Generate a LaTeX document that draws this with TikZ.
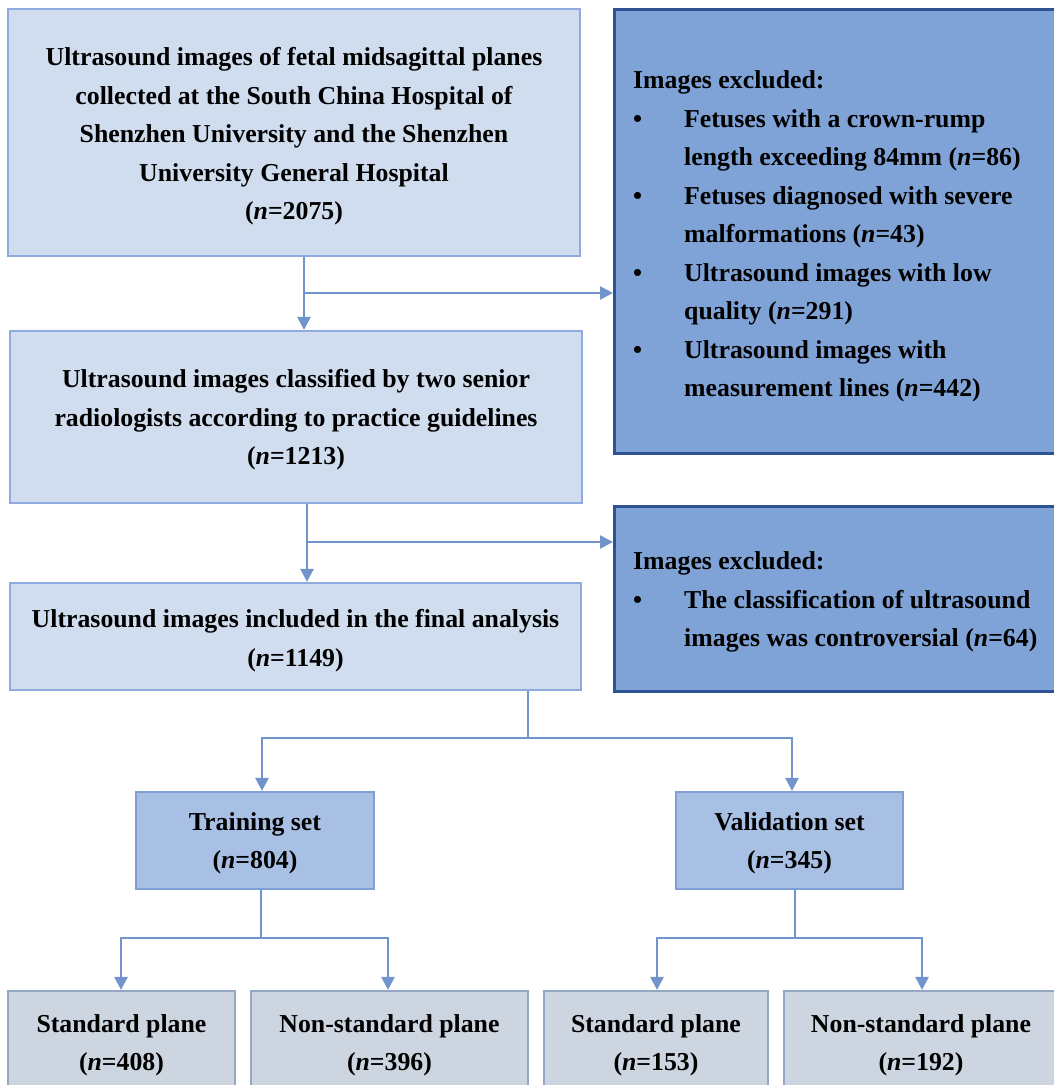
\documentclass[tikz,border=0pt]{standalone}
\usepackage{fontspec}
\setmainfont{Liberation Serif}
\usetikzlibrary{arrows.meta}
\definecolor{lightfill}{HTML}{D0DDEE}
\definecolor{lightline}{HTML}{8FAADC}
\definecolor{exfill}{HTML}{7FA3D6}
\definecolor{exline}{HTML}{2E5395}
\definecolor{setfill}{HTML}{A8C0E4}
\definecolor{setline}{HTML}{7F9FD6}
\definecolor{planefill}{HTML}{CCD5E0}
\definecolor{planeline}{HTML}{94A8C4}
\definecolor{arrowcol}{HTML}{7194CD}
\tikzset{
  base/.style={draw, line width=2.2pt, inner sep=0pt},
  txt/.style={inner sep=0pt, align=center,
    font=\fontsize{25.8}{38.5}\selectfont\bfseries},
  extxt/.style={txt, align=left, anchor=west},
  lightbox/.style={base, fill=lightfill, draw=lightline},
  exbox/.style={base, fill=exfill, draw=exline, line width=2.8pt, anchor=north west},
  setbox/.style={base, fill=setfill, draw=setline},
  planebox/.style={base, fill=planefill, draw=planeline},
  conn/.style={draw=arrowcol, line width=2.6pt},
  arr/.style={conn, -{Triangle[length=13pt,width=13pt]}},
}
\newcommand{\bul}{\makebox[51pt][l]{\textbullet}}
\newcommand{\ind}{\hspace*{51pt}}
\begin{document}
\begin{tikzpicture}[x=1pt,y=-1pt]
\useasboundingbox (0,0) rectangle (1054,1085);
\fill[white] (0,0) rectangle (1054,1085);
\clip (0,0) rectangle (1054,1085);

% main column
\node[lightbox, minimum width=572pt, minimum height=247pt] (b1) at (294,132.5) {};
\node[txt] (b1t) at ([yshift=-4pt]b1.center)
  {Ultrasound images of fetal midsagittal planes\\collected at the South China Hospital of\\Shenzhen University and the Shenzhen\\University General Hospital\\(\textit{n}=2075)};
\node[lightbox, minimum width=572pt, minimum height=172pt] (b2) at (296,417) {};
\node[txt] (b2t) at ([yshift=-3pt]b2.center)
  {Ultrasound images classified by two senior\\radiologists according to practice guidelines\\(\textit{n}=1213)};
\node[lightbox, minimum width=571pt, minimum height=107pt] (b3) at (295.5,636.5) {};
\node[txt] (b3t) at ([yshift=-4pt]b3.center)
  {Ultrasound images included in the final analysis\\(\textit{n}=1149)};

% exclusion boxes
\node[exbox, minimum width=460pt, minimum height=444pt] (ex1) at (613,8) {};
\node[extxt] (ex1t) at ([xshift=20pt,yshift=-5pt]ex1.west)
  {Images excluded:\\
   \bul Fetuses with a crown-rump\\
   \ind length exceeding 84mm (\textit{n}=86)\\
   \bul Fetuses diagnosed with severe\\
   \ind malformations (\textit{n}=43)\\
   \bul Ultrasound images with low\\
   \ind quality (\textit{n}=291)\\
   \bul Ultrasound images with\\
   \ind measurement lines (\textit{n}=442)};
\node[exbox, minimum width=460pt, minimum height=185pt] (ex2) at (613,505) {};
\node[extxt] (ex2t) at ([xshift=20pt,yshift=-3pt]ex2.west)
  {Images excluded:\\
   \bul The classification of ultrasound\\
   \ind images was controversial (\textit{n}=64)};

% sets
\node[setbox, minimum width=238pt, minimum height=97pt] (train) at (255,840.5) {};
\node[txt] (traint) at ([yshift=-3pt]train.center) {Training set\\(\textit{n}=804)};
\node[setbox, minimum width=227pt, minimum height=97pt] (valid) at (789.5,840.5) {};
\node[txt] (validt) at ([yshift=-3pt]valid.center) {Validation set\\(\textit{n}=345)};

% planes
\node[planebox, minimum width=227pt, minimum height=103pt] (pa) at (121.5,1042.5) {};
\node[txt] (pat) at ([yshift=-3pt]pa.center) {Standard plane\\(\textit{n}=408)};
\node[planebox, minimum width=277pt, minimum height=103pt] (pb) at (389.5,1042.5) {};
\node[txt] (pbt) at ([yshift=-3pt]pb.center) {Non-standard plane\\(\textit{n}=396)};
\node[planebox, minimum width=224pt, minimum height=103pt] (pc) at (656,1042.5) {};
\node[txt] (pct) at ([yshift=-3pt]pc.center) {Standard plane\\(\textit{n}=153)};
\node[planebox, minimum width=274pt, minimum height=103pt] (pd) at (921,1042.5) {};
\node[txt] (pdt) at ([yshift=-3pt]pd.center) {Non-standard plane\\(\textit{n}=192)};

% junctions
\coordinate (j1) at (304,293);
\coordinate (j2) at (307,542);
\coordinate (j3) at (528,738);
\coordinate (t1) at (262,738);
\coordinate (t2) at (792,738);
\coordinate (j4) at (261,938);
\coordinate (u1) at (121,938);
\coordinate (u2) at (388,938);
\coordinate (j5) at (795,938);
\coordinate (u3) at (657,938);
\coordinate (u4) at (922,938);

% connectors
\draw[arr] (j1 |- b1.south) -- (j1 |- b2.north);
\draw[arr] (j1) -- (j1 -| ex1.west);
\draw[arr] (j2 |- b2.south) -- (j2 |- b3.north);
\draw[arr] (j2) -- (j2 -| ex2.west);

\draw[conn] (j3 |- b3.south) -- (j3);
\draw[conn, line cap=rect] (t1) -- (t2);
\draw[arr] (t1) -- (t1 |- train.north);
\draw[arr] (t2) -- (t2 |- valid.north);

\draw[conn] (j4 |- train.south) -- (j4);
\draw[conn, line cap=rect] (u1) -- (u2);
\draw[arr] (u1) -- (u1 |- pa.north);
\draw[arr] (u2) -- (u2 |- pb.north);

\draw[conn] (j5 |- valid.south) -- (j5);
\draw[conn, line cap=rect] (u3) -- (u4);
\draw[arr] (u3) -- (u3 |- pc.north);
\draw[arr] (u4) -- (u4 |- pd.north);
\end{tikzpicture}
\end{document}
